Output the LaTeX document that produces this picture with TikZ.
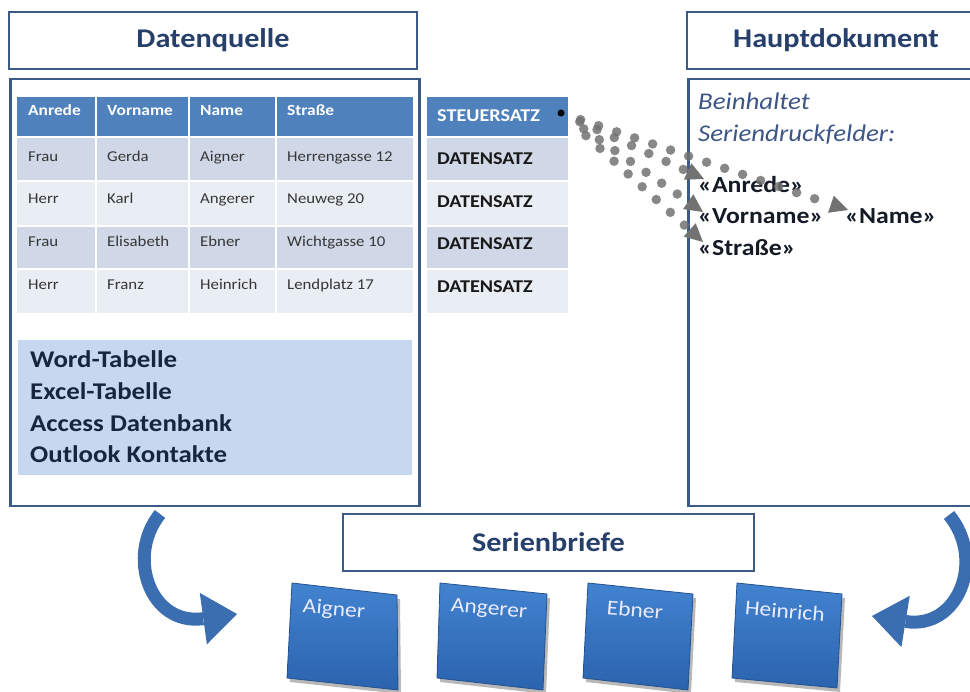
\documentclass[tikz,border=0pt]{standalone}
\usepackage{fontspec}
\setmainfont{Carlito}[FakeStretch=1.12]
\usetikzlibrary{arrows.meta,calc}
\definecolor{frame}{HTML}{3B5A86}
\definecolor{navy}{HTML}{26406B}
\definecolor{hdrBlue}{HTML}{4F81BD}
\definecolor{rowDark}{HTML}{D0D8E8}
\definecolor{rowLight}{HTML}{E9EDF4}
\definecolor{srcBox}{HTML}{C6D8EF}
\definecolor{srcText}{HTML}{17253F}
\definecolor{cellText}{HTML}{363636}
\definecolor{italBlue}{HTML}{3D5686}
\definecolor{fieldText}{HTML}{141A26}
\definecolor{dotGray}{HTML}{727272}
\definecolor{arrBlue}{HTML}{3A6EB0}
\definecolor{lbTop}{HTML}{4283D0}
\definecolor{lbBot}{HTML}{2B63AE}
\definecolor{lbEdge}{HTML}{24518F}
\newcommand\fsHead{\fontsize{27}{31}\selectfont\bfseries}
\newcommand\fsCell{\fontsize{15}{18}\selectfont}
\newcommand\fsCellB{\fontsize{15.5}{18}\selectfont\bfseries}
\newcommand\fsSatz{\fontsize{18}{21}\selectfont\bfseries}
\newcommand\fsSrc{\fontsize{24}{28}\selectfont\bfseries}
\newcommand\fsItal{\fontsize{24}{28}\selectfont\itshape}
\newcommand\fsField{\fontsize{23}{27}\selectfont\bfseries}
\newcommand\fsLetter{\fontsize{21}{25}\selectfont}
\begin{document}
\begin{tikzpicture}[x=1pt,y=-1pt,
  hdrbox/.style={draw=frame, line width=2.5pt, fill=white, inner sep=0pt,
    text=navy, font=\fsHead},
  mainbox/.style={draw=frame, line width=2.5pt, inner sep=0pt, anchor=north west},
  celltxt/.style={anchor=base west, inner sep=0pt, text=cellText, font=\fsCell},
  headtxt/.style={anchor=base west, inner sep=0pt, text=white, font=\fsCellB},
  satztxt/.style={anchor=base west, inner sep=0pt, text=black!90, font=\fsSatz},
  srctxt/.style={anchor=base west, inner sep=0pt, text=srcText, font=\fsSrc},
  italtxt/.style={anchor=base west, inner sep=0pt, text=italBlue, font=\fsItal},
  fieldtxt/.style={anchor=base west, inner sep=0pt, text=fieldText, font=\fsField},
  lettertxt/.style={inner sep=0pt, text=white!92!blue, font=\fsLetter, rotate=-5},
  dotcon/.style={draw=dotGray, draw opacity=.85, line width=9.5pt, line cap=round,
    dash pattern=on 0pt off 19pt,
    -{Triangle[length=18pt,width=18pt,line width=0pt,fill=dotGray]}},
  bluearrow/.style={draw=arrBlue, line width=13pt,
    -{Triangle[length=34pt,width=52pt,line width=0pt,fill=arrBlue]}},
  lshadow/.style={fill=black, opacity=.28},
  lshade/.style={top color=lbTop, bottom color=lbBot, draw=lbEdge, line width=.8pt}
]
\clip (0,0) rectangle (970,692);
\useasboundingbox (0,0) rectangle (970,692);

% ---------- Datenquelle ----------
\node[hdrbox, minimum width=408pt, minimum height=57pt] (dqh) at (213,40.5) {Datenquelle};
\node[mainbox, minimum width=409pt, minimum height=427pt] (dq) at (9,78) {};

% table backgrounds
\foreach \ya/\yb/\col in {97/136/hdrBlue, 138/180/rowDark, 182/225/rowLight, 227/268/rowDark, 270/313/rowLight}{
  \foreach \xa/\xb in {17/95, 97/188, 190/275, 277/413}
    \fill[\col] (\xa,\ya) rectangle (\xb,\yb);
  \fill[\col] (427,\ya) rectangle (568,\yb);
}
% table header
\node[headtxt] (h1) at (28,116) {Anrede};
\node[headtxt] (h2) at (107,116) {Vorname};
\node[headtxt] (h3) at (200,116) {Name};
\node[headtxt] (h4) at (287,116) {Straße};
% rows
\node[celltxt] (r1a) at (28,162) {Frau};
\node[celltxt] (r1b) at (107,162) {Gerda};
\node[celltxt] (r1c) at (200,162) {Aigner};
\node[celltxt] (r1d) at (287,162) {Herrengasse 12};
\node[celltxt] (r2a) at (28,204) {Herr};
\node[celltxt] (r2b) at (107,204) {Karl};
\node[celltxt] (r2c) at (200,204) {Angerer};
\node[celltxt] (r2d) at (287,204) {Neuweg 20};
\node[celltxt] (r3a) at (28,247) {Frau};
\node[celltxt] (r3b) at (107,247) {Elisabeth};
\node[celltxt] (r3c) at (200,247) {Ebner};
\node[celltxt] (r3d) at (287,247) {Wichtgasse 10};
\node[celltxt] (r4a) at (28,290) {Herr};
\node[celltxt] (r4b) at (107,290) {Franz};
\node[celltxt] (r4c) at (200,290) {Heinrich};
\node[celltxt] (r4d) at (287,290) {Lendplatz 17};

% source types
\fill[srcBox] (18,340) rectangle (412,475);
\node[srctxt] (s1) at (30,368) {Word-Tabelle};
\node[srctxt] (s2) at (30,400) {Excel-Tabelle};
\node[srctxt] (s3) at (30,432) {Access Datenbank};
\node[srctxt] (s4) at (30,463) {Outlook Kontakte};

% ---------- Steuersatz / Datensatz ----------
\node[satztxt, text=white] (st) at (437,122) {STEUERSATZ};
\node[satztxt] (d1) at (437,165) {DATENSATZ};
\node[satztxt] (d2) at (437,208) {DATENSATZ};
\node[satztxt] (d3) at (437,250) {DATENSATZ};
\node[satztxt] (d4) at (437,293) {DATENSATZ};
\node[circle, fill=black, inner sep=0pt, minimum size=7pt] (src) at (561,113) {};

% ---------- Hauptdokument ----------
\node[hdrbox, minimum width=298pt, minimum height=57pt] (hdh) at (836,40.5) {Hauptdokument};
\node[mainbox, minimum width=298pt, minimum height=427pt] (hd) at (687,78) {};
\node[italtxt] (b1) at (698,110) {Beinhaltet};
\node[italtxt] (b2) at (698,142) {Seriendruckfelder:};
\node[fieldtxt] (fAn) at (698,193) {«Anrede»};
\node[fieldtxt] (fVo) at (698,224) {«Vorname»};
\node[fieldtxt] (fNa) at (845,224) {«Name»};
\node[fieldtxt] (fSt) at (698,256) {«Straße»};

% dotted connectors
\coordinate (tA) at (704,179);
\coordinate (tV) at (703,212);
\coordinate (tN) at (848,210);
\coordinate (tS) at (703,242);
\draw[dotcon, shorten <=17pt] (src) -- (tN);
\draw[dotcon, shorten <=17pt] (src) -- (tA);
\draw[dotcon, shorten <=24pt] (src) -- (tV);
\draw[dotcon, shorten <=30pt] (src) -- (tS);

% ---------- Serienbriefe ----------
\node[hdrbox, minimum width=411pt, minimum height=57pt] (sb) at (548.5,542.5) {Serienbriefe};

% letters
\begin{scope}[shift={(3,4)}]
  \fill[lshadow] (292,583)--(397,595)--(398,690)--(287,678)--cycle;
  \fill[lshadow] (440,583)--(547,594)--(543,690)--(437,678)--cycle;
  \fill[lshadow] (588,583)--(693,594)--(688,690)--(583,678)--cycle;
  \fill[lshadow] (737,583)--(842,594)--(837,688)--(732,678)--cycle;
\end{scope}
\shade[lshade] (292,583)--(397,595)--(398,690)--(287,678)--cycle;
\shade[lshade] (440,583)--(547,594)--(543,690)--(437,678)--cycle;
\shade[lshade] (588,583)--(693,594)--(688,690)--(583,678)--cycle;
\shade[lshade] (737,583)--(842,594)--(837,688)--(732,678)--cycle;
\node[lettertxt] (lA) at (334,610) {Aigner};
\node[lettertxt] (lB) at (489,610) {Angerer};
\node[lettertxt] (lC) at (635,610) {Ebner};
\node[lettertxt] (lD) at (785,611) {Heinrich};

% curved arrows
\coordinate (aL0) at (160,514);
\coordinate (aL1) at (237,614);
\coordinate (aR0) at (949,515);
\coordinate (aR1) at (872,616);
\draw[bluearrow] (aL0) .. controls (126,556) and (150,626) .. (aL1);
\draw[bluearrow] (aR0) .. controls (986,560) and (958,630) .. (aR1);
\end{tikzpicture}
\end{document}
